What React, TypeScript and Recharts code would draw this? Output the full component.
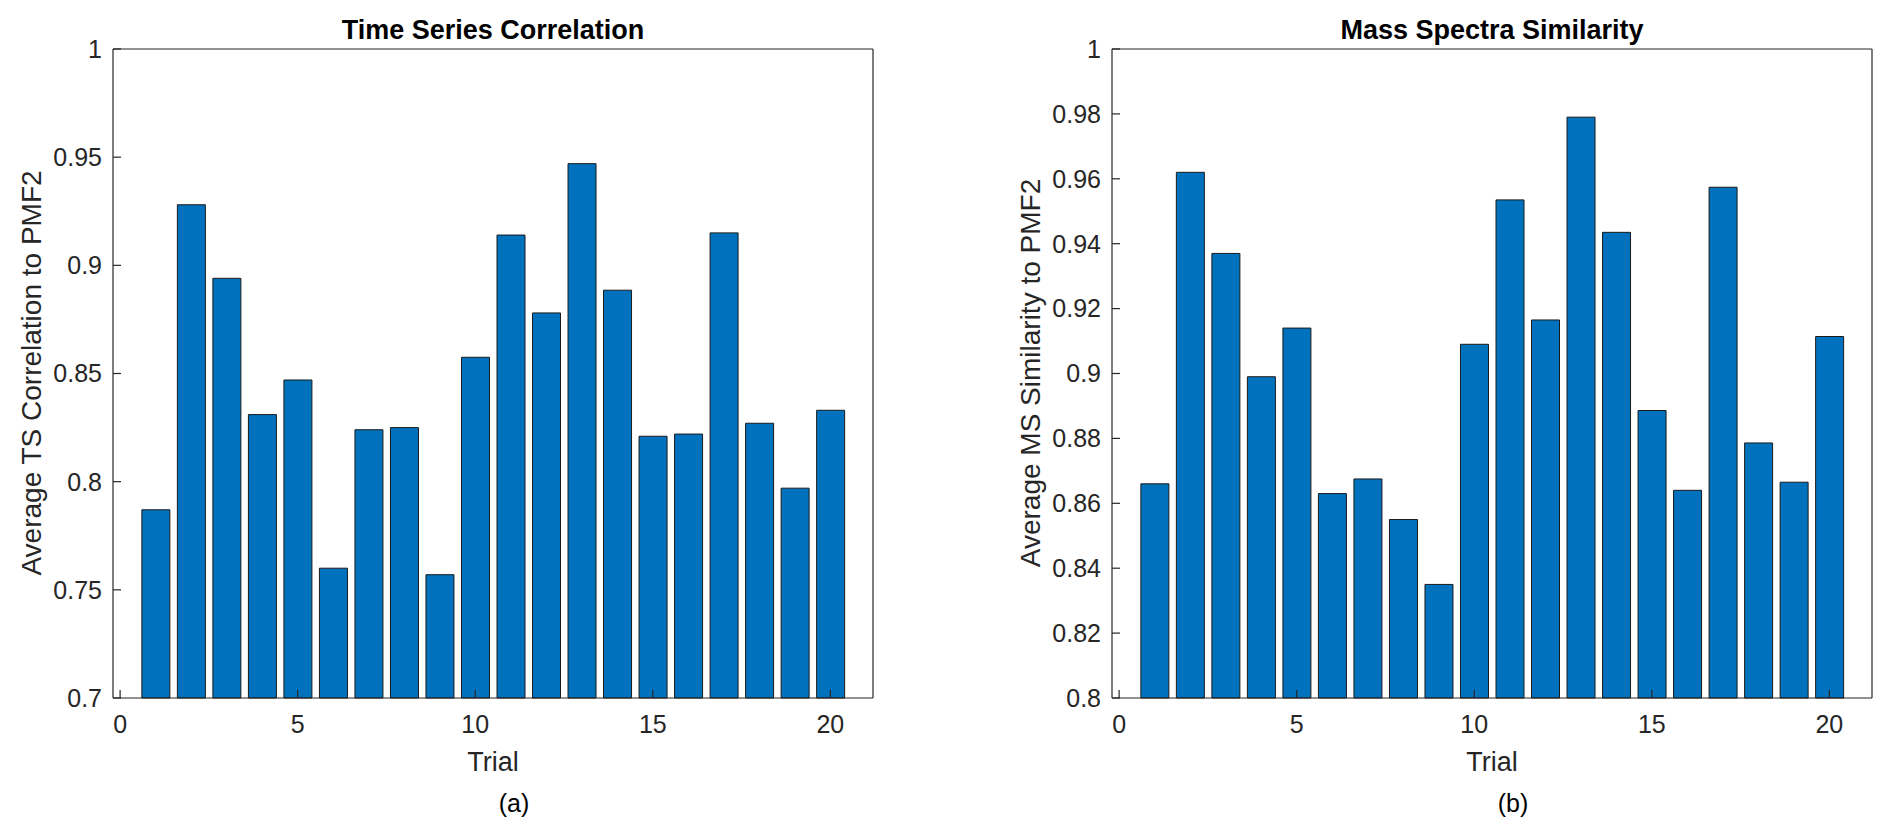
import React from "react";
import { BarChart, Bar, XAxis, YAxis } from "recharts";

const trials = [1, 2, 3, 4, 5, 6, 7, 8, 9, 10, 11, 12, 13, 14, 15, 16, 17, 18, 19, 20];

const tsCorrelation = [
  0.787, 0.928, 0.894, 0.831, 0.847, 0.76, 0.824, 0.825, 0.757, 0.8575,
  0.914, 0.878, 0.947, 0.8885, 0.821, 0.822, 0.915, 0.827, 0.797, 0.833,
];

const msSimilarity = [
  0.866, 0.962, 0.937, 0.899, 0.914, 0.863, 0.8675, 0.855, 0.835, 0.909,
  0.9535, 0.9165, 0.979, 0.9435, 0.8886, 0.864, 0.9574, 0.8786, 0.8665, 0.9114,
];

const xTicks = [0, 5, 10, 15, 20];
const tsTicks = [0.7, 0.75, 0.8, 0.85, 0.9, 0.95, 1];
const msTicks = [0.8, 0.82, 0.84, 0.86, 0.88, 0.9, 0.92, 0.94, 0.96, 0.98, 1];

const FONT = "'Liberation Sans', Arial, Helvetica, sans-serif";
const AXIS = "#262626";
const CHART_W = 946;
const CHART_H = 834;
const X_DOMAIN = [-0.2, 21.2];

type PanelProps = {
  values: number[];
  yTicks: number[];
  left: number;
  marginLeft: number;
  marginRight: number;
  title: string;
  yLabel: string;
  caption: string;
};

function Panel({ values, yTicks, left, marginLeft, marginRight, title, yLabel, caption }: PanelProps) {
  const data = trials.map((t, i) => ({ trial: t, value: values[i] }));
  const yDomain = [yTicks[0], yTicks[yTicks.length - 1]];
  const plotLeft = left + marginLeft + 80;
  const plotRight = left + CHART_W - marginRight - 1;
  const cx = (plotLeft + plotRight) / 2;
  const tickStyle = { fill: AXIS, fontSize: 25, fontFamily: FONT };
  const line = { stroke: AXIS, strokeWidth: 1.2 };

  return (
    <>
      <div style={{ position: "absolute", left, top: 0 }}>
        <BarChart
          width={CHART_W}
          height={CHART_H}
          data={data}
          margin={{ top: 48, bottom: 96, left: marginLeft, right: marginRight }}
        >
          <XAxis
            dataKey="trial"
            type="number"
            domain={X_DOMAIN}
            ticks={xTicks}
            interval={0}
            height={40}
            tickSize={-8}
            tickMargin={25}
            tick={tickStyle}
            axisLine={line}
            tickLine={line}
          />
          <XAxis
            xAxisId="top"
            orientation="top"
            type="number"
            domain={X_DOMAIN}
            allowDataOverflow
            ticks={xTicks}
            interval={0}
            height={1}
            tickSize={-8}
            tick={false}
            axisLine={line}
            tickLine={line}
          />
          <YAxis
            type="number"
            domain={yDomain}
            ticks={yTicks}
            interval={0}
            width={80}
            tickSize={-8}
            tickMargin={19}
            tick={tickStyle}
            axisLine={line}
            tickLine={line}
          />
          <YAxis
            yAxisId="right"
            orientation="right"
            type="number"
            domain={yDomain}
            allowDataOverflow
            ticks={yTicks}
            interval={0}
            width={1}
            tickSize={-8}
            tick={false}
            axisLine={line}
            tickLine={line}
          />
          <Bar
            dataKey="value"
            fill="#0072BD"
            stroke="#1a1a1a"
            strokeWidth={1}
            barSize={28}
            isAnimationActive={false}
          />
        </BarChart>
      </div>
      <div
        style={{
          position: "absolute",
          left: cx,
          top: 30,
          transform: "translate(-50%, -50%)",
          fontFamily: FONT,
          fontWeight: "bold",
          fontSize: 27,
          lineHeight: 1,
          whiteSpace: "nowrap",
          color: "#000",
        }}
      >
        {title}
      </div>
      <div
        style={{
          position: "absolute",
          left: plotLeft - 81,
          top: 373,
          transform: "translate(-50%, -50%) rotate(-90deg)",
          fontFamily: FONT,
          fontSize: 28,
          lineHeight: 1,
          whiteSpace: "nowrap",
          color: AXIS,
        }}
      >
        {yLabel}
      </div>
      <div
        style={{
          position: "absolute",
          left: cx,
          top: 762,
          transform: "translate(-50%, -50%)",
          fontFamily: FONT,
          fontSize: 27,
          lineHeight: 1,
          color: AXIS,
        }}
      >
        Trial
      </div>
      <div
        style={{
          position: "absolute",
          left: cx + 21,
          top: 803,
          transform: "translate(-50%, -50%)",
          fontFamily: FONT,
          fontSize: 25,
          lineHeight: 1,
          color: "#000",
        }}
      >
        {caption}
      </div>
    </>
  );
}

export default function App() {
  return (
    <div
      style={{
        position: "absolute",
        left: 0,
        top: 0,
        width: 1892,
        height: 834,
        background: "#fff",
        overflow: "hidden",
      }}
    >
      <Panel
        values={tsCorrelation}
        yTicks={tsTicks}
        left={0}
        marginLeft={33}
        marginRight={72}
        title="Time Series Correlation"
        yLabel="Average TS Correlation to PMF2"
        caption="(a)"
      />
      <Panel
        values={msSimilarity}
        yTicks={msTicks}
        left={946}
        marginLeft={86}
        marginRight={19}
        title="Mass Spectra Similarity"
        yLabel="Average MS Similarity to PMF2"
        caption="(b)"
      />
    </div>
  );
}
